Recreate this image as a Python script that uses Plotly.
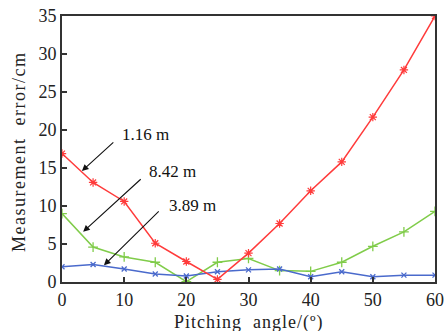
import plotly.graph_objects as go

angles = [0, 5, 10, 15, 20, 25, 30, 35, 40, 45, 50, 55, 60]
err_116 = [16.9, 13.1, 10.6, 5.1, 2.7, 0.35, 3.8, 7.7, 12.0, 15.8, 21.7, 27.9, 35.0]
err_842 = [9.0, 4.6, 3.3, 2.6, 0.05, 2.6, 3.1, 1.5, 1.4, 2.6, 4.7, 6.6, 9.3]
err_389 = [2.0, 2.3, 1.7, 1.05, 0.8, 1.35, 1.6, 1.7, 0.7, 1.35, 0.7, 0.9, 0.9]

x_ticks = [0, 10, 20, 30, 40, 50, 60]
y_ticks = [0, 5, 10, 15, 20, 25, 30, 35]

FONT = "Liberation Serif"

fig = go.Figure()
fig.add_trace(go.Scatter(x=angles, y=err_842, mode="lines+markers",
                         line=dict(color="#80cc4a", width=1.5),
                         marker=dict(symbol="cross-thin-open", size=7,
                                     line=dict(color="#80cc4a", width=1.3))))
fig.add_trace(go.Scatter(x=angles, y=err_389, mode="lines+markers",
                         line=dict(color="#4a6acc", width=1.5),
                         marker=dict(symbol="x-thin-open", size=5,
                                     line=dict(color="#4a6acc", width=1.3))))
fig.add_trace(go.Scatter(x=angles, y=err_116, mode="lines+markers",
                         line=dict(color="#ff3b3b", width=1.5),
                         marker=dict(symbol="asterisk-open", size=7,
                                     line=dict(color="#ff3b3b", width=1.2))))

arrows = [
    ("1.16 m", 3.2, 14.6, 8.5, 18.55, 9.3, 19.4),
    ("8.42 m", 3.4, 6.6, 12.9, 13.7, 13.7, 14.6),
    ("3.89 m", 6.75, 2.2, 15.8, 9.5, 16.9, 10.1),
]
for label, hx, hy, tx, ty, lx, ly in arrows:
    fig.add_annotation(x=hx, y=hy, ax=tx, ay=ty, xref="x", yref="y",
                       axref="x", ayref="y", showarrow=True, arrowhead=2,
                       arrowsize=1.2, arrowwidth=1.1, arrowcolor="#111", text="")
    fig.add_annotation(x=lx, y=ly, xref="x", yref="y", text=label,
                       showarrow=False, xanchor="left", yanchor="middle",
                       font=dict(family=FONT, size=17, color="#111"))

# axis titles placed as annotations for exact positioning
fig.add_annotation(x=0.5, y=0, xref="paper", yref="paper", yshift=-40,
                   text="<span style='letter-spacing:1px'>Pitching  angle/(º)</span>",
                   showarrow=False, xanchor="center", yanchor="middle",
                   font=dict(family=FONT, size=18, color="#222"))
fig.add_annotation(x=0, y=0.489, xref="paper", yref="paper", xshift=-43,
                   text="<span style='letter-spacing:1.5px'>Measurement  error/cm</span>",
                   showarrow=False, textangle=-90,
                   xanchor="center", yanchor="middle",
                   font=dict(family=FONT, size=18, color="#222"))

axis_common = dict(showline=True, mirror=True, linecolor="#333", linewidth=2,
                   ticks="inside", ticklen=5, tickcolor="#333", tickwidth=1.5,
                   showgrid=False, zeroline=False, automargin=False,
                   tickfont=dict(family=FONT, size=18, color="#222"))

fig.update_layout(
    width=446, height=331,
    margin=dict(l=62, r=11, t=16, b=49),
    paper_bgcolor="white", plot_bgcolor="white",
    showlegend=False,
    xaxis=dict(range=[0, 60], tickvals=x_ticks, **axis_common),
    yaxis=dict(range=[0, 35], tickvals=y_ticks, **axis_common),
)

fig.write_html("out.html", config={"displayModeBar": False},
               post_script="document.body.style.margin='0';document.body.style.overflow='hidden';")
